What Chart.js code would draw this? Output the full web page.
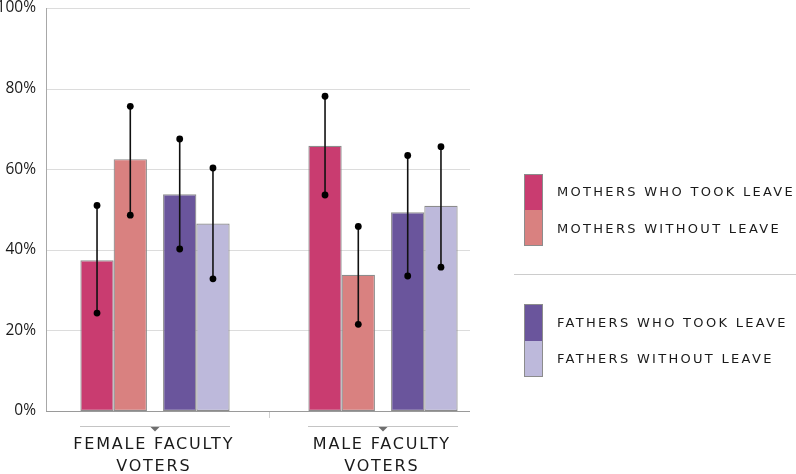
<!DOCTYPE html>
<html>
<head>
<meta charset="utf-8">
<script src="https://cdn.jsdelivr.net/npm/chart.js@4.4.1/dist/chart.umd.min.js"></script>
<style>
  html, body { margin: 0; padding: 0; background: #fff; }
  #wrap { position: relative; width: 796px; height: 474px; overflow: hidden; }
  #c { position: absolute; left: 0; top: 0; }
  .sw { position: absolute; left: 524px; width: 19px; box-sizing: border-box; border: 1px solid #8c8c8c; }
  .lt { position: absolute; left: 557px; font-family: 'DejaVu Sans', sans-serif; font-size: 13px; letter-spacing: 2.3px; color: #1a1a1a; line-height: 16px; white-space: nowrap; }
  #sep { position: absolute; left: 514px; top: 274px; width: 282px; height: 1px; background: #ccc; }
</style>
</head>
<body>
<div id="wrap">
  <canvas id="c" width="796" height="474"></canvas>
  <div id="legend"></div>
  <div id="sep"></div>
</div>
<script>
// ---- data ----
const categories = [['FEMALE FACULTY', 'VOTERS'], ['MALE FACULTY', 'VOTERS']];
const seriesNames = ['MOTHERS WHO TOOK LEAVE', 'MOTHERS WITHOUT LEAVE', 'FATHERS WHO TOOK LEAVE', 'FATHERS WITHOUT LEAVE'];
const mothersTook = [37.4, 65.8];
const mothersTookLow = [24.3, 53.6];
const mothersTookHigh = [51.0, 78.1];
const mothersWithout = [62.5, 33.8];
const mothersWithoutLow = [48.6, 21.5];
const mothersWithoutHigh = [75.6, 45.8];
const fathersTook = [53.8, 49.3];
const fathersTookLow = [40.2, 33.5];
const fathersTookHigh = [67.5, 63.4];
const fathersWithout = [46.5, 50.9];
const fathersWithoutLow = [32.8, 35.7];
const fathersWithoutHigh = [60.3, 65.6];
const yTickValues = [0, 20, 40, 60, 80, 100];
const yTickLabels = ['0%', '20%', '40%', '60%', '80%', '100%'];

const colors = ['#c93c70', '#d98180', '#6a559c', '#bdb9db'];
const values = [mothersTook, mothersWithout, fathersTook, fathersWithout];
const lows = [mothersTookLow, mothersWithoutLow, fathersTookLow, fathersWithoutLow];
const highs = [mothersTookHigh, mothersWithoutHigh, fathersTookHigh, fathersWithoutHigh];
// per-dataset slot geometry (pairs with a gap between them)
const catPct = [0.678, 0.867, 0.867, 0.678];
const barPct = [0.862, 0.674, 0.674, 0.862];

const PLOT_L = 46, PLOT_R = 470;

const decor = {
  id: 'decor',
  beforeDatasetsDraw(chart) {
    const ctx = chart.ctx, y = chart.scales.y, x = chart.scales.x;
    ctx.save();
    ctx.lineWidth = 1;
    ctx.strokeStyle = '#dcdcdc';
    yTickValues.forEach(v => {
      if (v === 0) return;
      const py = Math.round(y.getPixelForValue(v)) + 0.5;
      ctx.beginPath(); ctx.moveTo(PLOT_L, py); ctx.lineTo(PLOT_R, py); ctx.stroke();
    });
    const top = Math.round(y.getPixelForValue(100));
    const bot = Math.round(y.getPixelForValue(0));
    ctx.strokeStyle = '#a8a8a8';
    ctx.beginPath(); ctx.moveTo(PLOT_L + 0.5, top); ctx.lineTo(PLOT_L + 0.5, bot + 1); ctx.stroke();
    const mid = Math.round((x.getPixelForValue(0) + x.getPixelForValue(1)) / 2) + 0.5;
    ctx.strokeStyle = '#d0d0d0';
    ctx.beginPath(); ctx.moveTo(mid, bot); ctx.lineTo(mid, bot + 7); ctx.stroke();
    ctx.restore();
  },
  afterDatasetsDraw(chart) {
    const ctx = chart.ctx, y = chart.scales.y, x = chart.scales.x;
    ctx.save();
    const bot = Math.round(y.getPixelForValue(0)) + 0.5;
    ctx.strokeStyle = '#9a9a9a';
    ctx.lineWidth = 1;
    ctx.beginPath(); ctx.moveTo(PLOT_L, bot); ctx.lineTo(PLOT_R, bot); ctx.stroke();
    chart.data.datasets.forEach((ds, di) => {
      const meta = chart.getDatasetMeta(di);
      meta.data.forEach((bar, i) => {
        const px = bar.x;
        const y1 = y.getPixelForValue(lows[di][i]);
        const y2 = y.getPixelForValue(highs[di][i]);
        ctx.strokeStyle = '#111';
        ctx.lineWidth = 1.6;
        ctx.beginPath(); ctx.moveTo(px, y1); ctx.lineTo(px, y2); ctx.stroke();
        ctx.fillStyle = '#000';
        [y1, y2].forEach(py => { ctx.beginPath(); ctx.arc(px, py, 3.4, 0, Math.PI * 2); ctx.fill(); });
      });
    });
    ctx.font = '16px "DejaVu Sans", sans-serif';
    ctx.letterSpacing = '1.8px';
    ctx.textAlign = 'center';
    ctx.textBaseline = 'middle';
    categories.forEach((lab, i) => {
      const cx = x.getPixelForValue(i);
      ctx.strokeStyle = '#c4c4c4';
      ctx.lineWidth = 1;
      ctx.beginPath(); ctx.moveTo(cx - 75, 426.5); ctx.lineTo(cx + 75, 426.5); ctx.stroke();
      ctx.fillStyle = '#6e6e6e';
      ctx.beginPath(); ctx.moveTo(cx - 4.5, 427); ctx.lineTo(cx + 4.5, 427); ctx.lineTo(cx, 431.5); ctx.closePath(); ctx.fill();
      ctx.fillStyle = '#1a1a1a';
      lab.forEach((line, k) => ctx.fillText(line, cx - 1.2, 445 + k * 22));
    });
    ctx.restore();
  }
};

new Chart(document.getElementById('c'), {
  type: 'bar',
  data: {
    labels: categories.map(c => c.join(' ')),
    datasets: values.map((v, i) => ({
      label: seriesNames[i],
      data: v,
      backgroundColor: colors[i],
      borderColor: '#8c8c8c',
      borderWidth: 1.2,
      borderSkipped: false,
      categoryPercentage: catPct[i],
      barPercentage: barPct[i]
    }))
  },
  options: {
    responsive: false,
    animation: false,
    devicePixelRatio: 1,
    layout: { padding: { left: 0, right: 299, top: 8, bottom: 63 } },
    plugins: { legend: { display: false }, tooltip: { enabled: false } },
    scales: {
      x: { display: false },
      y: {
        min: 0, max: 100,
        afterFit(s) { s.width = 41; s.paddingTop = 0; s.paddingBottom = 0; },
        afterBuildTicks(s) { s.ticks = yTickValues.map(v => ({ value: v })); },
        grid: { display: false, drawTicks: false },
        border: { display: false },
        ticks: {
          padding: 5,
          color: '#1a1a1a',
          font: { family: "'Open Sans', sans-serif", size: 15.5, lineHeight: 1 },
          callback: (v) => yTickLabels[yTickValues.indexOf(v)]
        }
      }
    }
  },
  plugins: [decor]
});

const legend = document.getElementById('legend');
const swTops = [174, 210, 304, 341];
const swH = [36, 36, 37, 36];
const textMid = [192, 229, 323, 359];
seriesNames.forEach((n, i) => {
  const s = document.createElement('div');
  s.className = 'sw';
  s.style.top = swTops[i] + 'px';
  s.style.height = swH[i] + 'px';
  s.style.background = colors[i];
  if (i === 1 || i === 3) s.style.borderTop = 'none';
  if (i === 0 || i === 2) s.style.borderBottom = 'none';
  legend.appendChild(s);
  const t = document.createElement('div');
  t.className = 'lt';
  t.style.top = (textMid[i] - 8) + 'px';
  t.textContent = n;
  legend.appendChild(t);
});
</script>
</body>
</html>
